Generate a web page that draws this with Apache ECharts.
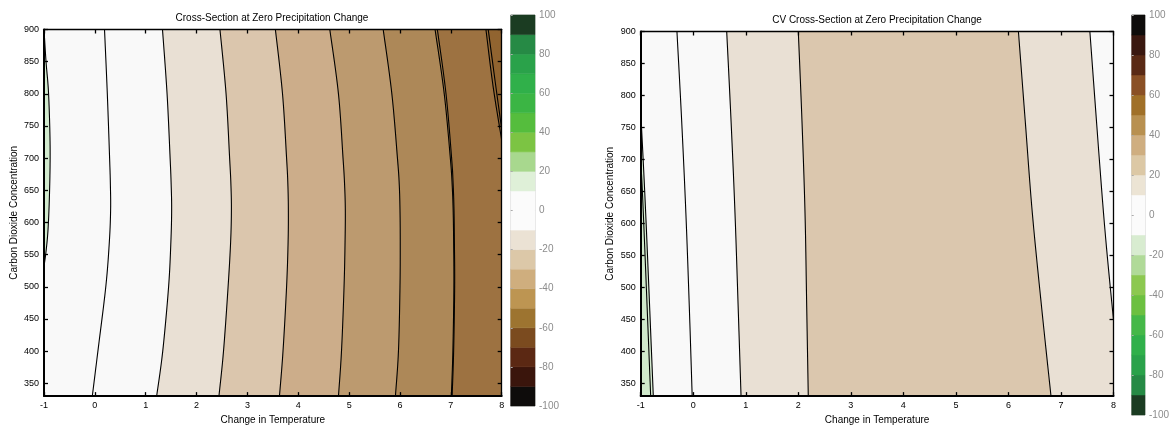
<!DOCTYPE html>
<html><head><meta charset="utf-8">
<script src="https://cdn.jsdelivr.net/npm/echarts@6/dist/echarts.min.js"></script>
<style>html,body{margin:0;padding:0;background:#fff}#c{width:1172px;height:430px}</style>
</head><body><div id="c"></div>
<script>
// ---------- ticks ----------
const tempTicks = [-1, 0, 1, 2, 3, 4, 5, 6, 7, 8];
const co2Ticks = [350, 400, 450, 500, 550, 600, 650, 700, 750, 800, 850, 900];
const cbarTicks = [-100, -80, -60, -40, -20, 0, 20, 40, 60, 80, 100];

// ---------- colorbars (lower bound of each 10-unit level, bottom to top) ----------
const cbarLevels = [-100, -90, -80, -70, -60, -50, -40, -30, -20, -10, 0, 10, 20, 30, 40, 50, 60, 70, 80, 90];
const leftCbarColors = ['#0e0c0b', '#3a150c', '#5b2813', '#7b4b1f', '#9d7430', '#bd9552', '#cfae7e', '#dcc8a8', '#ebe2d4', '#fbfbfb',
                        '#fbfbfb', '#dff0d8', '#a8d88e', '#7cc443', '#55bd3d', '#3bb544', '#30b04a', '#2aa24a', '#268a45', '#1b3c22'];
const rightCbarColors = ['#1b3c22', '#268a45', '#2aa24a', '#30b04a', '#45b848', '#6cc040', '#8cc850', '#b0da98', '#d8ecd0', '#fbfbfb',
                         '#fbfbfb', '#ece4d4', '#dcc8a5', '#cfae80', '#b89050', '#a07028', '#8a5025', '#5a2a15', '#3a1810', '#0e0c0b'];

// ---------- left panel contour lines: [temperature change, CO2] ----------
const leftGreen = [[-1, 900], [-0.96, 850], [-0.91, 800], [-0.88, 720], [-0.89, 650], [-0.92, 590], [-0.96, 555], [-1, 532]];
const leftL2 = [[0.19, 900], [0.245, 800], [0.29, 700], [0.305, 660], [0.31, 620], [0.285, 570], [0.215, 500], [0.06, 400], [-0.05, 330]];
const leftL3 = [[1.33, 900], [1.42, 800], [1.48, 700], [1.50, 660], [1.51, 620], [1.495, 570], [1.45, 500], [1.335, 400], [1.215, 330]];
const leftL4 = [[2.46, 900], [2.58, 800], [2.65, 700], [2.675, 660], [2.685, 620], [2.67, 570], [2.62, 500], [2.53, 400], [2.44, 330]];
const leftL5 = [[3.55, 900], [3.69, 800], [3.77, 700], [3.795, 660], [3.805, 620], [3.80, 570], [3.77, 500], [3.70, 400], [3.63, 330]];
const leftL6 = [[4.62, 900], [4.79, 800], [4.88, 700], [4.91, 660], [4.925, 620], [4.92, 570], [4.90, 500], [4.85, 400], [4.79, 330]];
const leftL7 = [[5.67, 900], [5.84, 800], [5.95, 700], [5.985, 660], [6.0, 620], [6.005, 570], [6.0, 500], [5.97, 400], [5.91, 330]];
const leftL8a = [[6.69, 900], [6.87, 800], [6.99, 700], [7.025, 660], [7.045, 620], [7.055, 570], [7.06, 500], [7.04, 400], [7.01, 330]];
const leftL8b = [[6.735, 900], [6.905, 800], [7.015, 700], [7.045, 660], [7.062, 620], [7.07, 570], [7.075, 500], [7.055, 400], [7.025, 330]];
const leftL9a = [[7.69, 900], [7.83, 812], [8.0, 728]];
const leftL9b = [[7.735, 900], [7.87, 820], [8.0, 745]];
const leftLines = [leftL2, leftL3, leftL4, leftL5, leftL6, leftL7, leftL8a, leftL8b, leftL9a, leftL9b];
const leftFills = ['#f9f9f9', '#e9e0d4', '#dbc6ad', '#ccad8a', '#bc9a6f', '#ad8858', '#a17a48', '#9d7241', '#966a37', '#916430'];
const leftGreens = [leftGreen];
const leftGreenFills = ['#d3ebcf'];

// ---------- right panel (CV) contour lines ----------
const rightGreenA = [[-1, 775], [-0.905, 616], [-0.76, 330]];
const rightGreenB = [[-1, 700], [-0.95, 616], [-0.81, 330]];
const rightL2 = [[-0.31, 900], [-0.22, 760], [-0.14, 616], [-0.075, 470], [-0.02, 330]];
const rightL3 = [[0.637, 900], [0.72, 760], [0.795, 616], [0.855, 470], [0.91, 330]];
const rightL4 = [[2.0, 900], [2.07, 760], [2.128, 616], [2.16, 470], [2.19, 330]];
const rightL5 = [[6.19, 900], [6.32, 760], [6.455, 616], [6.63, 470], [6.81, 330]];
const rightL6 = [[7.55, 900], [7.81, 616], [8.0, 449]];
const rightLines = [rightL2, rightL3, rightL4, rightL5, rightL6];
const rightFills = ['#f9f9f9', '#e9e0d4', '#dbc7ae', '#e9e0d4', '#f9f9f9'];
const rightGreens = [rightGreenA, rightGreenB];
const rightGreenFills = ['#d8edd3', '#d0e9cb'];

const X_MIN = -1, X_MAX = 8, Y_MIN = 330, Y_MAX = 900;
const FONT = '"Liberation Sans", Arial, sans-serif';

// smooth a pixel polyline (Catmull-Rom) for display only
function smoothPx(px) {
  if (px.length < 3) return px;
  const out = [];
  for (let i = 0; i < px.length - 1; i++) {
    const p0 = px[Math.max(i - 1, 0)], p1 = px[i], p2 = px[i + 1], p3 = px[Math.min(i + 2, px.length - 1)];
    const steps = 12;
    for (let s = 0; s < steps; s++) {
      const t = s / steps, t2 = t * t, t3 = t2 * t;
      const f = function (a, b, c, d) {
        return 0.5 * ((2 * b) + (-a + c) * t + (2 * a - 5 * b + 4 * c - d) * t2 + (-a + 3 * b - 3 * c + d) * t3);
      };
      out.push([f(p0[0], p1[0], p2[0], p3[0]), f(p0[1], p1[1], p2[1], p3[1])]);
    }
  }
  out.push(px[px.length - 1]);
  return out;
}

function contourRender(lines, fills, greens, greenFills) {
  return function (params, api) {
    const children = [];
    const tl = api.coord([X_MIN, Y_MAX]), br = api.coord([X_MAX, Y_MIN]);
    const toPx = function (ln) { return smoothPx(ln.map(function (p) { return api.coord(p); })); };
    children.push({ type: 'rect', shape: { x: tl[0], y: tl[1], width: br[0] - tl[0], height: br[1] - tl[1] }, style: { fill: '#f9f9f9' } });
    lines.forEach(function (ln, i) {
      const pts = toPx(ln).concat([api.coord([X_MAX, ln[ln.length - 1][1]]), api.coord([X_MAX, ln[0][1]])]);
      children.push({ type: 'polygon', shape: { points: pts }, style: { fill: fills[i], stroke: fills[i], lineWidth: 0.5 } });
    });
    greens.forEach(function (ln, i) {
      const pts = toPx(ln).concat([api.coord([X_MIN, ln[ln.length - 1][1]]), api.coord([X_MIN, ln[0][1]])]);
      children.push({ type: 'polygon', shape: { points: pts }, style: { fill: greenFills[i] } });
    });
    lines.concat(greens).forEach(function (ln) {
      children.push({ type: 'polyline', shape: { points: toPx(ln) }, style: { stroke: '#000', lineWidth: 1.1, fill: null } });
    });
    return { type: 'group', children: children };
  };
}

function cbarRender(colors) {
  return function (params, api) {
    const lo = api.value(0), hi = api.value(1), idx = api.value(2);
    const p1 = api.coord([0, hi]), p2 = api.coord([1, lo]);
    return { type: 'rect', shape: { x: p1[0], y: p1[1], width: p2[0] - p1[0], height: p2[1] - p1[1] },
             style: { fill: colors[idx], stroke: colors[idx], lineWidth: 0.5 } };
  };
}

const cbarData = cbarLevels.map(function (lo, i) { return [lo, lo + 10, i]; });

function plotXAxes(grid) {
  return [
    { gridIndex: grid, type: 'value', min: X_MIN, max: X_MAX, interval: 1, position: 'bottom', z: 10,
      name: 'Change in Temperature', nameLocation: 'middle', nameGap: 17,
      nameTextStyle: { fontSize: 10, color: '#000', fontFamily: FONT },
      axisLine: { onZero: false, lineStyle: { color: '#000', width: 2 } },
      axisTick: { inside: true, length: 4, customValues: tempTicks, lineStyle: { color: '#000', width: 1.3 } },
      axisLabel: { fontSize: 9, color: '#000', margin: 5, customValues: tempTicks, fontFamily: FONT },
      splitLine: { show: false } },
    { gridIndex: grid, type: 'value', min: X_MIN, max: X_MAX, interval: 1, position: 'top', z: 10,
      axisLine: { onZero: false, lineStyle: { color: '#000', width: 1.3 } },
      axisTick: { inside: true, length: 4, customValues: tempTicks, lineStyle: { color: '#000', width: 1.3 } },
      axisLabel: { show: false }, splitLine: { show: false } }
  ];
}
function plotYAxes(grid, gap) {
  return [
    { gridIndex: grid, type: 'value', min: Y_MIN, max: Y_MAX, position: 'left', z: 10,
      name: 'Carbon Dioxide Concentration', nameLocation: 'middle', nameGap: gap, nameRotate: 90,
      nameTextStyle: { fontSize: 10, color: '#000', fontFamily: FONT },
      axisLine: { onZero: false, lineStyle: { color: '#000', width: 2 } },
      axisTick: { inside: true, length: 4, customValues: co2Ticks, lineStyle: { color: '#000', width: 1.3 } },
      axisLabel: { fontSize: 9, color: '#000', margin: 5, customValues: co2Ticks, fontFamily: FONT },
      splitLine: { show: false } },
    { gridIndex: grid, type: 'value', min: Y_MIN, max: Y_MAX, position: 'right', z: 10,
      axisLine: { onZero: false, lineStyle: { color: '#000', width: 1.3 } },
      axisTick: { inside: true, length: 4, customValues: co2Ticks, lineStyle: { color: '#000', width: 1.3 } },
      axisLabel: { show: false }, splitLine: { show: false } }
  ];
}
function cbarXAxis(grid) {
  return { gridIndex: grid, type: 'value', min: 0, max: 1, show: false };
}
function cbarYAxis(grid) {
  return { gridIndex: grid, type: 'value', min: -100, max: 100, interval: 20, position: 'right', z: 10,
    axisLine: { show: false },
    axisTick: { show: true, inside: false, length: 2, customValues: cbarTicks, lineStyle: { color: '#aaa', width: 1 } },
    axisLabel: { fontSize: 10, color: '#8c8c8c', margin: 4, customValues: cbarTicks, fontFamily: FONT },
    splitLine: { show: false } };
}

const chart = echarts.init(document.getElementById('c'), null, { renderer: 'canvas' });
chart.setOption({
  animation: false,
  backgroundColor: '#fff',
  textStyle: { fontFamily: FONT },
  grid: [
    { left: 44, top: 29.5, width: 457.7, height: 368.2 },
    { left: 510.7, top: 15, width: 24.3, height: 391, show: true, borderColor: '#c8c8c8', borderWidth: 1 },
    { left: 640.7, top: 31.5, width: 472.8, height: 368.5 },
    { left: 1131.7, top: 15, width: 21.6, height: 400, show: true, borderColor: '#c8c8c8', borderWidth: 1 }
  ],
  xAxis: plotXAxes(0).concat([cbarXAxis(1)]).concat(plotXAxes(2)).concat([cbarXAxis(3)]),
  yAxis: plotYAxes(0, 25).concat([cbarYAxis(1)]).concat(plotYAxes(2, 25)).concat([cbarYAxis(3)]),
  graphic: [
    { type: 'text', x: 272, y: 18, z: 20,
      style: { text: 'Cross-Section at Zero Precipitation Change', font: '10px ' + FONT, fill: '#000', textAlign: 'center', textVerticalAlign: 'middle' } },
    { type: 'text', x: 877, y: 20, z: 20,
      style: { text: 'CV Cross-Section at Zero Precipitation Change', font: '10px ' + FONT, fill: '#000', textAlign: 'center', textVerticalAlign: 'middle' } }
  ],
  series: [
    { type: 'custom', xAxisIndex: 0, yAxisIndex: 0, z: 1, silent: true, clip: true, data: [[0, 600]],
      renderItem: contourRender(leftLines, leftFills, leftGreens, leftGreenFills) },
    { type: 'custom', xAxisIndex: 2, yAxisIndex: 2, z: 1, silent: true, data: cbarData,
      renderItem: cbarRender(leftCbarColors) },
    { type: 'custom', xAxisIndex: 3, yAxisIndex: 3, z: 1, silent: true, clip: true, data: [[0, 600]],
      renderItem: contourRender(rightLines, rightFills, rightGreens, rightGreenFills) },
    { type: 'custom', xAxisIndex: 5, yAxisIndex: 5, z: 1, silent: true, data: cbarData,
      renderItem: cbarRender(rightCbarColors) }
  ]
});
</script>
</body></html>
